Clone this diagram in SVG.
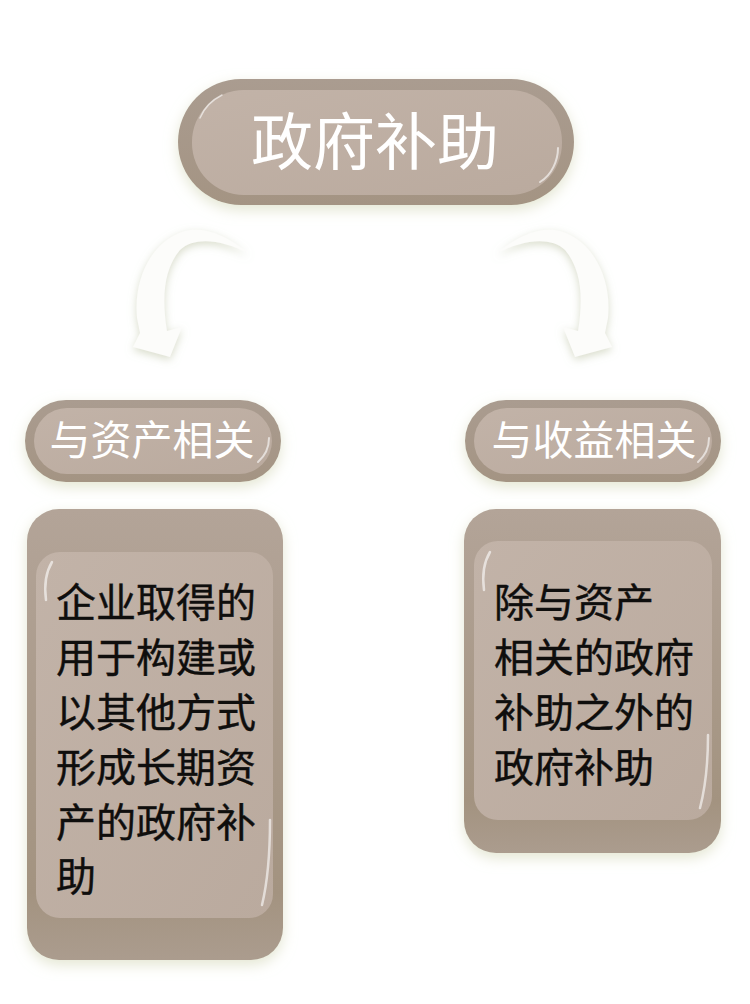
<svg xmlns="http://www.w3.org/2000/svg" width="750" height="1004" viewBox="0 0 750 1004">
<defs>
<filter id="glow" x="-20%" y="-20%" width="140%" height="140%">
<feDropShadow dx="0" dy="5" stdDeviation="7" flood-color="#d9dcc0" flood-opacity="0.7"/>
</filter>
<filter id="ashadow" x="-30%" y="-30%" width="160%" height="160%">
<feDropShadow dx="0" dy="3" stdDeviation="4" flood-color="#cfd3bd" flood-opacity="0.8"/>
</filter>
<linearGradient id="outerG" x1="0" y1="0" x2="0" y2="1">
<stop offset="0" stop-color="#aa9c90"/>
<stop offset="1" stop-color="#a49483"/>
</linearGradient>
<linearGradient id="innerG" x1="0" y1="0" x2="1" y2="1">
<stop offset="0" stop-color="#c2b3a8"/>
<stop offset="1" stop-color="#baaa9e"/>
</linearGradient>
<linearGradient id="boxOuter" x1="0" y1="0" x2="0" y2="1">
<stop offset="0" stop-color="#b3a498"/>
<stop offset="0.85" stop-color="#a39380"/>
<stop offset="1" stop-color="#ab9c8e"/>
</linearGradient>
</defs>
<style>
.outer{fill:url(#outerG);}
.inner{fill:url(#innerG);}
.boxo{fill:url(#boxOuter);}
.hl{fill:none;stroke:#ffffff;stroke-opacity:0.6;stroke-linecap:round;}
.title{font-family:"Noto Sans CJK SC","Noto Sans",sans-serif;fill:#ffffff;text-anchor:middle;}
.body{font-family:"Noto Sans CJK SC","Noto Sans",sans-serif;fill:#0f0e0d;font-size:40px;stroke:#0f0e0d;stroke-width:0.4;}
.arrow{fill:#fcfcfa;}
</style>
<rect width="750" height="1004" fill="#ffffff"/>

<g id="connectors" filter="url(#ashadow)">
<path class="arrow" d="M248,253 C228,236 208,228 190,230 C155,236 133,275 137,318 L140,333 L133,347 L170,357 L182,327 L167,331 C162,300 163,270 180,250 C195,236 222,240 248,253 Z"/>
<path class="arrow" transform="translate(745,0) scale(-1,1)" d="M248,253 C228,236 208,228 190,230 C155,236 133,275 137,318 L140,333 L133,347 L170,357 L182,327 L167,331 C162,300 163,270 180,250 C195,236 222,240 248,253 Z"/>
</g>

<g id="node-root">
<rect class="outer" x="178" y="79" width="396" height="126" rx="63" filter="url(#glow)"/>
<rect class="inner" x="192" y="90" width="370" height="105" rx="52"/>
<path class="hl" stroke-width="2" d="M540,182 C552,175 558,160 558,148"/>
<path class="hl" stroke-width="1.5" d="M200,118 C204,108 212,100 222,95"/>
<text class="title" x="375" y="165" font-size="62">政府补助</text>
</g>

<g id="node-asset">
<rect class="outer" x="25" y="400" width="256" height="82" rx="41" filter="url(#glow)"/>
<rect class="inner" x="34" y="408" width="238" height="66" rx="33"/>
<path class="hl" stroke-width="2" d="M258,462 C266,455 269,446 269,438"/>
<text class="title" x="152" y="455" font-size="41">与资产相关</text>
</g>

<g id="node-income">
<rect class="outer" x="465" y="400" width="256" height="82" rx="41" filter="url(#glow)"/>
<rect class="inner" x="474" y="408" width="238" height="66" rx="33"/>
<path class="hl" stroke-width="2" d="M698,462 C706,455 709,446 709,438"/>
<text class="title" x="594" y="455" font-size="41">与收益相关</text>
</g>

<g id="node-asset-desc">
<rect class="boxo" x="27" y="509" width="256" height="451" rx="32" filter="url(#glow)"/>
<rect class="inner" x="36" y="552" width="237" height="366" rx="24"/>
<path class="hl" stroke-width="2.5" d="M46,600 C44,585 46,572 52,562"/>
<path class="hl" stroke-width="2.5" d="M262,905 C268,880 270,845 270,820"/>
<g class="body">
<text x="56" y="617">企业取得的</text>
<text x="56" y="672">用于构建或</text>
<text x="56" y="727">以其他方式</text>
<text x="56" y="782">形成长期资</text>
<text x="56" y="837">产的政府补</text>
<text x="56" y="891">助</text>
</g>
</g>

<g id="node-income-desc">
<rect class="boxo" x="464" y="509" width="257" height="344" rx="32" filter="url(#glow)"/>
<rect class="inner" x="474" y="541" width="238" height="279" rx="24"/>
<path class="hl" stroke-width="2.5" d="M484,590 C482,575 484,562 490,552"/>
<path class="hl" stroke-width="2.5" d="M700,808 C706,785 708,755 708,735"/>
<g class="body">
<text x="494" y="617">除与资产</text>
<text x="494" y="672">相关的政府</text>
<text x="494" y="727">补助之外的</text>
<text x="494" y="782">政府补助</text>
</g>
</g>
</svg>
